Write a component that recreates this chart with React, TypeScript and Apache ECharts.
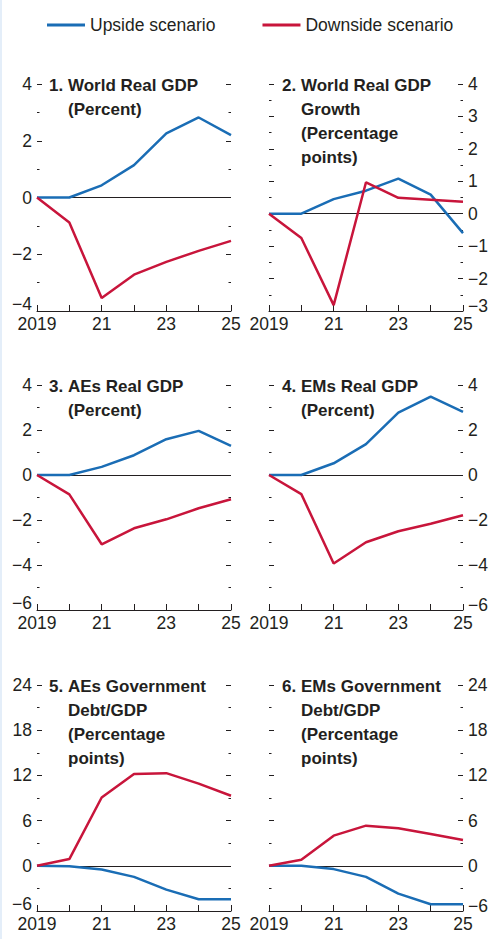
import React, { useEffect, useRef } from "react";
import * as echarts from "echarts";

// ---------- data ----------
const years = ["2019", "2020", "2021", "2022", "2023", "2024", "2025"];
const seriesNames = ["Upside scenario", "Downside scenario"];

const worldGdpUp = [0, 0, 0.43, 1.14, 2.26, 2.82, 2.2];
const worldGdpDown = [0, -0.88, -3.54, -2.72, -2.27, -1.88, -1.53];

const worldGrowthUp = [0, 0, 0.45, 0.71, 1.08, 0.59, -0.6];
const worldGrowthDown = [0, -0.75, -2.82, 0.97, 0.49, 0.43, 0.37];

const aesGdpUp = [0, 0, 0.36, 0.88, 1.59, 1.96, 1.29];
const aesGdpDown = [0, -0.86, -3.08, -2.37, -1.97, -1.48, -1.08];

const emsGdpUp = [0, 0, 0.52, 1.37, 2.77, 3.48, 2.81];
const emsGdpDown = [0, -0.85, -3.93, -2.99, -2.5, -2.17, -1.79];

const aesDebtUp = [0, -0.05, -0.49, -1.47, -3.16, -4.44, -4.44];
const aesDebtDown = [0, 0.89, 9.07, 12.19, 12.3, 10.9, 9.3];

const emsDebtUp = [0, 0, -0.44, -1.47, -3.69, -5.1, -5.1];
const emsDebtDown = [0, 0.8, 4.0, 5.33, 4.98, 4.22, 3.42];

const panelNumbers = ["1.", "2.", "3.", "4.", "5.", "6."];
const panelTitles = [
  ["World Real GDP", "(Percent)"],
  ["World Real GDP", "Growth", "(Percentage", "points)"],
  ["AEs Real GDP", "(Percent)"],
  ["EMs Real GDP", "(Percent)"],
  ["AEs Government", "Debt/GDP", "(Percentage", "points)"],
  ["EMs Government", "Debt/GDP", "(Percentage", "points)"],
];
const upsideData = [worldGdpUp, worldGrowthUp, aesGdpUp, emsGdpUp, aesDebtUp, emsDebtUp];
const downsideData = [worldGdpDown, worldGrowthDown, aesGdpDown, emsGdpDown, aesDebtDown, emsDebtDown];
const yMins = [-4, -3, -6, -6, -6, -6];
const yMaxs = [4, 4, 4, 4, 24, 24];
const yIntervals = [2, 1, 2, 2, 6, 6];

// ---------- style / layout ----------
const FONT = '"Liberation Sans", Arial, Helvetica, sans-serif';
const INK = "#231f20";
const BLUE = "#1a6db5";
const RED = "#c8153b";
const W = 492;
const H = 939;
const colLefts = [37, 269];
const plotWidth = 194;
const rowTops = [84, 385, 685];
const rowHeights = [227, 225, 226];
const LABEL_SIZE = 17.5;

export default function App() {
  const ref = useRef<HTMLDivElement>(null);

  useEffect(() => {
    if (!ref.current) return;
    const chart = echarts.init(ref.current, null, { renderer: "svg" });

    const grids: any[] = [];
    const xAxes: any[] = [];
    const yAxes: any[] = [];
    const series: any[] = [];
    const graphics: any[] = [
      { type: "rect", left: 0, top: 0, shape: { x: 0, y: 0, width: 2, height: H }, style: { fill: "#e4eef9" }, z: -1 },
    ];

    for (let i = 0; i < 6; i++) {
      const col = i % 2;
      const row = Math.floor(i / 2);
      const left = colLefts[col];
      const top = rowTops[row];
      grids.push({ left, top, width: plotWidth, height: rowHeights[row], containLabel: false });

      xAxes.push({
        type: "category",
        gridIndex: i,
        data: years,
        boundaryGap: false,
        axisLine: { show: true, onZero: false, lineStyle: { color: INK, width: 1 } },
        axisTick: { show: true, inside: true, length: 6, interval: 0, lineStyle: { color: INK, width: 1 } },
        axisLabel: {
          interval: 1,
          margin: 4,
          fontSize: LABEL_SIZE,
          fontFamily: FONT,
          color: INK,
          formatter: (v: string, idx: number) => (idx === 0 ? v : v.slice(2)),
        },
        splitLine: { show: false },
      });

      const minVal = yMins[i];
      for (const side of ["left", "right"]) {
        const showLabel = (col === 0) === (side === "left");
        // lift the lowest label a little on the left so it clears the "2019" label
        const lift = side === "left" ? 14 : 10;
        yAxes.push({
          type: "value",
          gridIndex: i,
          position: side,
          min: yMins[i],
          max: yMaxs[i],
          interval: yIntervals[i],
          axisLine: { show: false },
          axisTick: { show: true, inside: true, length: 5, lineStyle: { color: INK, width: 1 } },
          minorTick: { show: true, splitNumber: 2, length: 2.5, lineStyle: { color: INK, width: 1 } },
          axisLabel: {
            show: showLabel,
            margin: 5,
            fontSize: LABEL_SIZE,
            fontFamily: FONT,
            color: INK,
            rich: {
              lo: { fontSize: LABEL_SIZE, fontFamily: FONT, color: INK, padding: [0, 0, lift, 0] },
            },
            formatter: (v: number) => {
              const s = String(v).replace("-", "\u2212");
              return v === minVal ? `{lo|${s}}` : s;
            },
          },
          splitLine: { show: false },
          minorSplitLine: { show: false },
        });
      }

      series.push({
        name: seriesNames[0],
        type: "line",
        xAxisIndex: i,
        yAxisIndex: 2 * i,
        data: upsideData[i],
        symbol: "none",
        lineStyle: { color: BLUE, width: 2.5 },
        itemStyle: { color: BLUE },
        z: 3,
        markLine: {
          silent: true,
          symbol: ["none", "none"],
          label: { show: false },
          lineStyle: { color: INK, width: 1, type: "solid" },
          data: [{ yAxis: 0 }],
          z: 1,
        },
      });
      series.push({
        name: seriesNames[1],
        type: "line",
        xAxisIndex: i,
        yAxisIndex: 2 * i,
        data: downsideData[i],
        symbol: "none",
        lineStyle: { color: RED, width: 2.5 },
        itemStyle: { color: RED },
        z: 3,
      });

      const numX = col === 0 ? 49 : 282;
      const textX = numX + 19;
      const titleY = top - 11;
      graphics.push({
        type: "text",
        left: numX,
        top: titleY,
        style: { text: panelNumbers[i], font: `bold 17px ${FONT}`, fill: INK, lineHeight: 24 },
        z: 10,
      });
      graphics.push({
        type: "text",
        left: textX,
        top: titleY,
        style: { text: panelTitles[i].join("\n"), font: `bold 17px ${FONT}`, fill: INK, lineHeight: 24 },
        z: 10,
      });
    }

    chart.setOption({
      animation: false,
      backgroundColor: "#ffffff",
      legend: {
        data: seriesNames,
        left: 47,
        top: 16,
        padding: 0,
        icon: "rect",
        itemWidth: 38,
        itemHeight: 3,
        itemGap: 47,
        selectedMode: false,
        textStyle: { fontSize: LABEL_SIZE, fontFamily: FONT, color: INK },
      },
      grid: grids,
      xAxis: xAxes,
      yAxis: yAxes,
      series,
      graphic: graphics,
    });

    return () => chart.dispose();
  }, []);

  return (
    <div
      ref={ref}
      style={{ position: "fixed", left: 0, top: 0, width: W, height: H, background: "#ffffff" }}
    />
  );
}
